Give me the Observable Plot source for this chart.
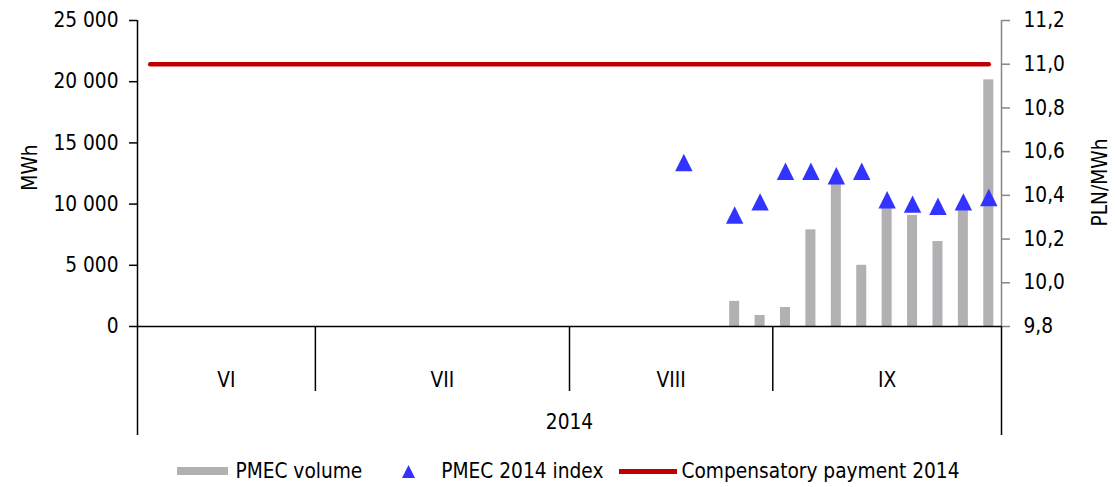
<!DOCTYPE html>
<html>
<head>
<meta charset="utf-8">
<script src="https://cdn.jsdelivr.net/npm/d3@7"></script>
<script src="https://cdn.jsdelivr.net/npm/@observablehq/plot@0.6"></script>
<style>
  body { margin: 0; background: #fff; font-family: "DejaVu Sans Condensed", "DejaVu Sans", sans-serif; font-stretch: condensed; }
  #legend { position: absolute; left: 137px; top: 459px; width: 863px; display: flex; justify-content: center; align-items: center; font-size: 20.7px; color: #000; white-space: nowrap; }
  #legend .sw { display: inline-block; }
</style>
</head>
<body>
<div id="chart"></div>
<div id="legend">
  <span class="sw" style="width:51px;height:8px;background:#b2b0b3;margin-right:7px"></span><span>PMEC volume</span>
  <svg width="13" height="13" style="margin-left:40px;margin-right:26px"><path d="M6.5,0L13,13L0,13Z" fill="#3333ff"/></svg><span>PMEC 2014 index</span>
  <span class="sw" style="width:58px;height:5px;background:#c00000;margin-left:16px;margin-right:4px"></span><span>Compensatory payment 2014</span>
</div>
<script>
// Month groups on the category axis (sessions per month)
const monthNames = ["VI", "VII", "VIII", "IX"];
const monthSessions = [7, 10, 8, 9];
const yearLabel = "2014";
const leftTitle = "MWh";
const rightTitle = "PLN/MWh";

// PMEC volume [MWh] per session (left axis)
const volume = [
  null, null, null, null, null, null, null,
  null, null, null, null, null, null, null, null, null, null,
  null, null, null, null, null, null, 2050, 900,
  1550, 7900, 11650, 5000, 9700, 9070, 6940, 9560, 20150
];
// PMEC 2014 index [PLN/MWh] per session (right axis)
const pmecIndex = [
  null, null, null, null, null, null, null,
  null, null, null, null, null, null, null, null, null, null,
  null, null, null, null, 10.55, null, 10.31, 10.37,
  10.51, 10.51, 10.49, 10.51, 10.38, 10.36, 10.35, 10.37, 10.39
];
// Compensatory payment 2014 [PLN/MWh]
const compensatory = [
  11.0, 11.0, 11.0, 11.0, 11.0, 11.0, 11.0,
  11.0, 11.0, 11.0, 11.0, 11.0, 11.0, 11.0, 11.0, 11.0, 11.0,
  11.0, 11.0, 11.0, 11.0, 11.0, 11.0, 11.0, 11.0,
  11.0, 11.0, 11.0, 11.0, 11.0, 11.0, 11.0, 11.0, 11.0
];
const leftTicks = [0, 5000, 10000, 15000, 20000, 25000];
const rightTicks = [9.8, 10.0, 10.2, 10.4, 10.6, 10.8, 11.0, 11.2];

const leftDomain = [0, 25000];
const rightDomain = [9.8, 11.2];
const toLeft = v => v == null ? null : (v - rightDomain[0]) / (rightDomain[1] - rightDomain[0]) * (leftDomain[1] - leftDomain[0]) + leftDomain[0];
const fromLeft = v => (v - leftDomain[0]) / (leftDomain[1] - leftDomain[0]) * (rightDomain[1] - rightDomain[0]) + rightDomain[0];

const n = volume.length;
const data = volume.map((v, i) => ({i, volume: v, index: pmecIndex[i], comp: compensatory[i]}));

const bounds = [0];
monthSessions.forEach(c => bounds.push(bounds[bounds.length - 1] + c));
const centers = monthNames.map((m, k) => (bounds[k] + bounds[k + 1]) / 2);

const loc = d3.formatLocale({decimal: ",", thousands: "\u00a0", grouping: [3], currency: ["", ""]});
const fmtL = loc.format(",.0f");
const fmtR = loc.format(".1f");

const triangle = {draw(ctx, size) {
  const r = Math.sqrt(size / Math.PI);
  ctx.moveTo(0, -r); ctx.lineTo(r, r); ctx.lineTo(-r, r); ctx.closePath();
}};

const font = '"DejaVu Sans Condensed", "DejaVu Sans", sans-serif';

const chart = Plot.plot({
  width: 1115,
  height: 448,
  marginLeft: 137,
  marginRight: 114,
  marginTop: 20,
  marginBottom: 122,
  style: {fontFamily: font, fontSize: "20.7px", fontStretch: "condensed", color: "#000", background: "#fff"},
  x: {type: "linear", domain: [0, n]},
  y: {domain: leftDomain},
  marks: [
    Plot.rectY(data.filter(d => d.volume != null), {x: "i", interval: 1, y: "volume", fill: "#b2b0b3", insetLeft: 7.7, insetRight: 7.7}),
    Plot.lineY(data, {x: d => d.i + 0.5, y: d => toLeft(d.comp), stroke: "#c00000", strokeWidth: 4.5}),
    Plot.dot(data.filter(d => d.index != null), {x: d => d.i + 0.5, y: d => toLeft(d.index), symbol: triangle, r: 8.7, fill: "#3333ff", stroke: null}),
    Plot.ruleX([0], {stroke: "#000", strokeWidth: 1.5}),
    Plot.ruleX([n], {stroke: "#868686", strokeWidth: 1.5}),
    Plot.ruleY([0], {stroke: "#000", strokeWidth: 1.5}),
    Plot.axisY(leftTicks, {anchor: "left", tickSize: 8, tickPadding: 11, tickFormat: fmtL, stroke: "#000", strokeWidth: 1.5, fill: "#000", label: null}),
    Plot.axisY(rightTicks.map(toLeft), {anchor: "right", tickSize: 8, tickPadding: 14, tickFormat: d => fmtR(fromLeft(d)), stroke: "#868686", strokeWidth: 1.5, fill: "#000", label: null}),
    Plot.text([leftTitle], {frameAnchor: "left", textAnchor: "middle", lineAnchor: "middle", rotate: -90, dx: -107, dy: -6, fill: "#000"}),
    Plot.text([rightTitle], {frameAnchor: "right", textAnchor: "middle", lineAnchor: "middle", rotate: -90, dx: 99, dy: 9, fill: "#000"}),
    Plot.axisX(bounds.slice(1, -1), {anchor: "bottom", tickSize: 65, tickFormat: () => "", stroke: "#000", strokeWidth: 1.5, label: null}),
    Plot.axisX([0, n], {anchor: "bottom", tickSize: 109, tickFormat: () => "", stroke: "#000", strokeWidth: 1.5, label: null}),
    Plot.axisX(centers, {anchor: "bottom", tickSize: 0, tickPadding: 46, tickFormat: d => monthNames[centers.indexOf(d)], fill: "#000", label: null}),
    Plot.axisX([n / 2], {anchor: "bottom", tickSize: 0, tickPadding: 88, tickFormat: () => yearLabel, fill: "#000", label: null})
  ]
});
document.getElementById("chart").appendChild(chart);
</script>
</body>
</html>
